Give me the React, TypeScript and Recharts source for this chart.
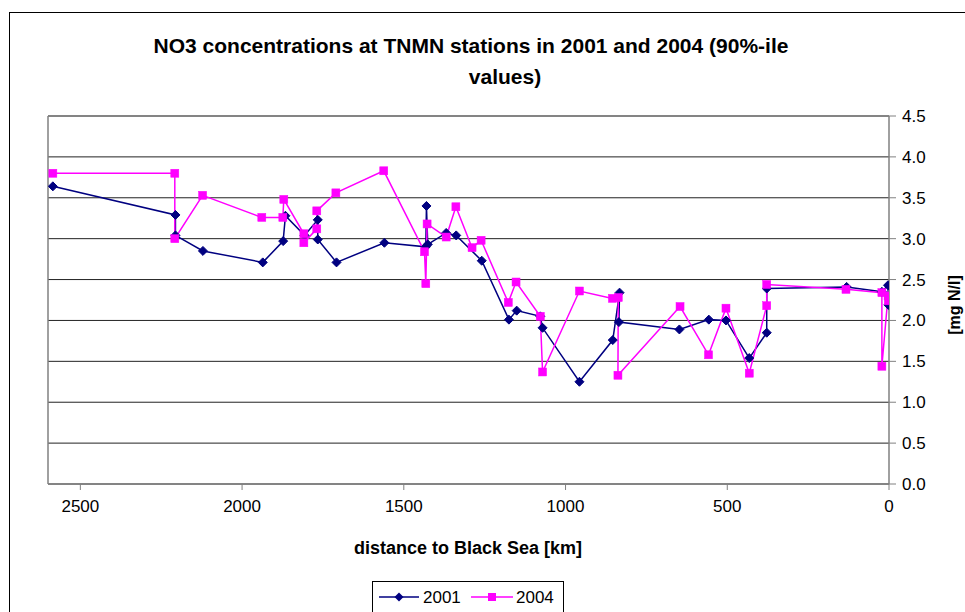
import React from 'react';
import { LineChart, Line, XAxis, YAxis, CartesianGrid, ReferenceLine } from 'recharts';

// distance to Black Sea [km] and NO3 90%-ile values [mg N/l]
const dist2001 = [2585, 2206, 2206, 2121, 1936, 1873, 1866, 1807, 1766, 1766, 1708, 1560, 1432, 1430, 1426, 1369, 1338, 1259, 1175, 1151, 1078, 1071, 957, 854, 833, 835, 648, 557, 504, 432, 378, 378, 131, 22, 3, 2];
const no3_2001 = [3.64, 3.29, 3.04, 2.85, 2.71, 2.97, 3.28, 3.04, 3.23, 2.99, 2.71, 2.95, 2.90, 3.40, 2.93, 3.07, 3.04, 2.73, 2.01, 2.12, 2.05, 1.91, 1.25, 1.76, 2.34, 1.98, 1.89, 2.01, 2.00, 1.54, 1.85, 2.39, 2.41, 2.35, 2.43, 2.19];

const dist2004 = [2585, 2208, 2208, 2122, 1939, 1874, 1871, 1809, 1809, 1769, 1769, 1710, 1562, 1436, 1432, 1428, 1369, 1339, 1289, 1261, 1177, 1153, 1078, 1071, 957, 855, 837, 838, 646, 558, 504, 432, 378, 378, 133, 22, 22, 3, 2];
const no3_2004 = [3.80, 3.80, 3.00, 3.53, 3.26, 3.26, 3.48, 3.06, 2.95, 3.12, 3.34, 3.56, 3.83, 2.84, 2.45, 3.18, 3.02, 3.39, 2.89, 2.98, 2.22, 2.47, 2.05, 1.37, 2.36, 2.27, 2.28, 1.33, 2.17, 1.58, 2.15, 1.355, 2.18, 2.44, 2.38, 2.34, 1.44, 2.30, 2.24];

const xTicks = [0, 500, 1000, 1500, 2000, 2500];
const yTicks = [0, 0.5, 1, 1.5, 2, 2.5, 3, 3.5, 4, 4.5];

const data2001 = dist2001.map((x, i) => ({ x, y: no3_2001[i] }));
const data2004 = dist2004.map((x, i) => ({ x, y: no3_2004[i] }));

const NAVY = '#000080';
const PINK = '#FF00FF';
const FONT = '"Liberation Sans", Arial, sans-serif';

const DiamondDot = (props: any) => {
  const { cx, cy, index } = props;
  if (cx == null || cy == null) return <g key={`d-${index}`} />;
  const r = 4.5;
  return (
    <polygon
      key={`d-${index}`}
      points={`${cx},${cy - r} ${cx + r},${cy} ${cx},${cy + r} ${cx - r},${cy}`}
      fill={NAVY}
      stroke={NAVY}
      strokeWidth={1}
    />
  );
};

const SquareDot = (props: any) => {
  const { cx, cy, index } = props;
  if (cx == null || cy == null) return <g key={`s-${index}`} />;
  const h = 4;
  return <rect key={`s-${index}`} x={cx - h} y={cy - h} width={2 * h} height={2 * h} fill={PINK} stroke={PINK} strokeWidth={0.5} />;
};

export default function App() {
  return (
    <div style={{ position: 'absolute', left: 0, top: 0, width: 965, height: 612, overflow: 'hidden', background: '#fff', fontFamily: FONT }}>
      <div style={{ position: 'absolute', left: 9, top: 12, width: 1000, height: 700, border: '1px solid #000' }} />
      <div style={{ position: 'absolute', left: -29, width: 1000, top: 30, textAlign: 'center', fontWeight: 'bold', fontSize: 21, lineHeight: '31px', color: '#000', whiteSpace: 'nowrap' }}>
        NO3 concentrations at TNMN stations in 2001 and 2004 (90%-ile
      </div>
      <div style={{ position: 'absolute', left: 5, width: 1000, top: 61, textAlign: 'center', fontWeight: 'bold', fontSize: 21, lineHeight: '31px', color: '#000', whiteSpace: 'nowrap' }}>
        values)
      </div>
      <div style={{ position: 'absolute', left: 0, top: 0 }}>
        <LineChart width={965} height={612} margin={{ top: 116, left: 48, right: 0, bottom: 88 }}>
          <CartesianGrid vertical={false} stroke="#222" strokeWidth={1} />
          <XAxis
            type="number"
            dataKey="x"
            domain={[0, 2600]}
            reversed
            ticks={xTicks}
            allowDataOverflow
            height={40}
            tickSize={6}
            tickMargin={10}
            axisLine={{ stroke: '#808080', strokeWidth: 1.5 }}
            tickLine={{ stroke: '#808080' }}
            tick={{ fill: '#000', fontSize: 17, fontFamily: FONT }}
          />
          <YAxis
            orientation="right"
            type="number"
            domain={[0, 4.5]}
            ticks={yTicks}
            width={76}
            tickSize={7}
            tickMargin={6}
            tickFormatter={(v: number) => v.toFixed(1)}
            axisLine={{ stroke: '#808080', strokeWidth: 1.5 }}
            tickLine={{ stroke: '#808080' }}
            tick={{ fill: '#000', fontSize: 17, fontFamily: FONT }}
          />
          <ReferenceLine y={4.5} stroke="#808080" strokeWidth={1.5} />
          <ReferenceLine x={2600} stroke="#808080" strokeWidth={1.5} />
          <Line data={data2001} dataKey="y" type="linear" stroke={NAVY} strokeWidth={1.5} dot={DiamondDot} activeDot={false} isAnimationActive={false} />
          <Line data={data2004} dataKey="y" type="linear" stroke={PINK} strokeWidth={1.5} dot={SquareDot} activeDot={false} isAnimationActive={false} />
        </LineChart>
      </div>
      <div style={{ position: 'absolute', left: 268, width: 400, top: 538, textAlign: 'center', fontWeight: 'bold', fontSize: 18, color: '#000' }}>
        distance to Black Sea [km]
      </div>
      <div style={{ position: 'absolute', left: 955 - 60, top: 305 - 11, width: 120, height: 22, lineHeight: '22px', textAlign: 'center', fontWeight: 'bold', fontSize: 16, color: '#000', transform: 'rotate(-90deg)' }}>
        [mg N/l]
      </div>
      <div style={{ position: 'absolute', left: 372, top: 581, width: 190, height: 60, border: '1px solid #000', background: '#fff' }}>
        <svg width={190} height={30} style={{ position: 'absolute', left: 0, top: 0 }}>
          <line x1={6} y1={15} x2={46} y2={15} stroke={NAVY} strokeWidth={1.5} />
          <polygon points="26,10.5 30.5,15 26,19.5 21.5,15" fill={NAVY} />
          <text x={50} y={21} fontSize={17} fontFamily={FONT} fill="#000">2001</text>
          <line x1={98} y1={15} x2={140} y2={15} stroke={PINK} strokeWidth={1.5} />
          <rect x={115} y={11} width={8} height={8} fill={PINK} />
          <text x={143} y={21} fontSize={17} fontFamily={FONT} fill="#000">2004</text>
        </svg>
      </div>
    </div>
  );
}
